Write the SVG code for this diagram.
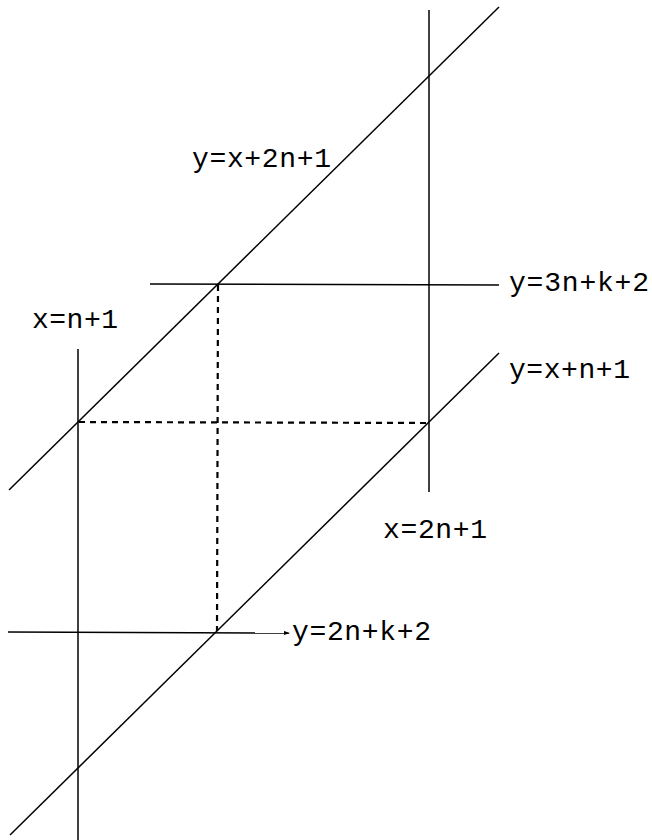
<svg xmlns="http://www.w3.org/2000/svg" width="652" height="840" viewBox="0 0 652 840">
<style>
.ln{stroke:#000;stroke-width:1.5;fill:none}
.ds{stroke:#000;stroke-width:2.2;fill:none;stroke-dasharray:6 5}
.lb{font-family:"Liberation Mono","DejaVu Sans Mono",monospace;font-size:28px;fill:#000}
</style>
<defs>
<marker id="tip" viewBox="0 0 6 6" refX="5" refY="3" markerWidth="6" markerHeight="6" markerUnits="userSpaceOnUse" orient="auto">
<path d="M0,1 L6,3 L0,5 Z" fill="#000"/>
</marker>
</defs>
<rect width="652" height="840" fill="#fff"/>
<g id="connectors">
<line class="ln" x1="9" y1="490" x2="499" y2="7"/>
<line class="ln" x1="10" y1="835" x2="499" y2="353"/>
<line class="ln" x1="78" y1="349" x2="78" y2="840"/>
<line class="ln" x1="429" y1="10" x2="429" y2="492"/>
<line class="ln" x1="150" y1="284" x2="499" y2="285"/>
<line class="ln" x1="8" y1="632" x2="289" y2="633" marker-end="url(#tip)"/>
<line class="ds" x1="79" y1="422" x2="428" y2="423"/>
<line class="ds" x1="218" y1="285" x2="217" y2="631"/>
</g>
<g id="label-y-x-2n-1"><text class="lb" x="192" y="167" textLength="139" lengthAdjust="spacing">y=x+2n+1</text></g>
<g id="label-y-3n-k-2"><text class="lb" x="509" y="291" textLength="140" lengthAdjust="spacing">y=3n+k+2</text></g>
<g id="label-x-n-1"><text class="lb" x="32" y="328" textLength="86" lengthAdjust="spacing">x=n+1</text></g>
<g id="label-y-x-n-1"><text class="lb" x="509" y="378" textLength="121" lengthAdjust="spacing">y=x+n+1</text></g>
<g id="label-x-2n-1"><text class="lb" x="383" y="538" textLength="104" lengthAdjust="spacing">x=2n+1</text></g>
<g id="label-y-2n-k-2"><text class="lb" x="292" y="640" textLength="139" lengthAdjust="spacing">y=2n+k+2</text></g>
</svg>
